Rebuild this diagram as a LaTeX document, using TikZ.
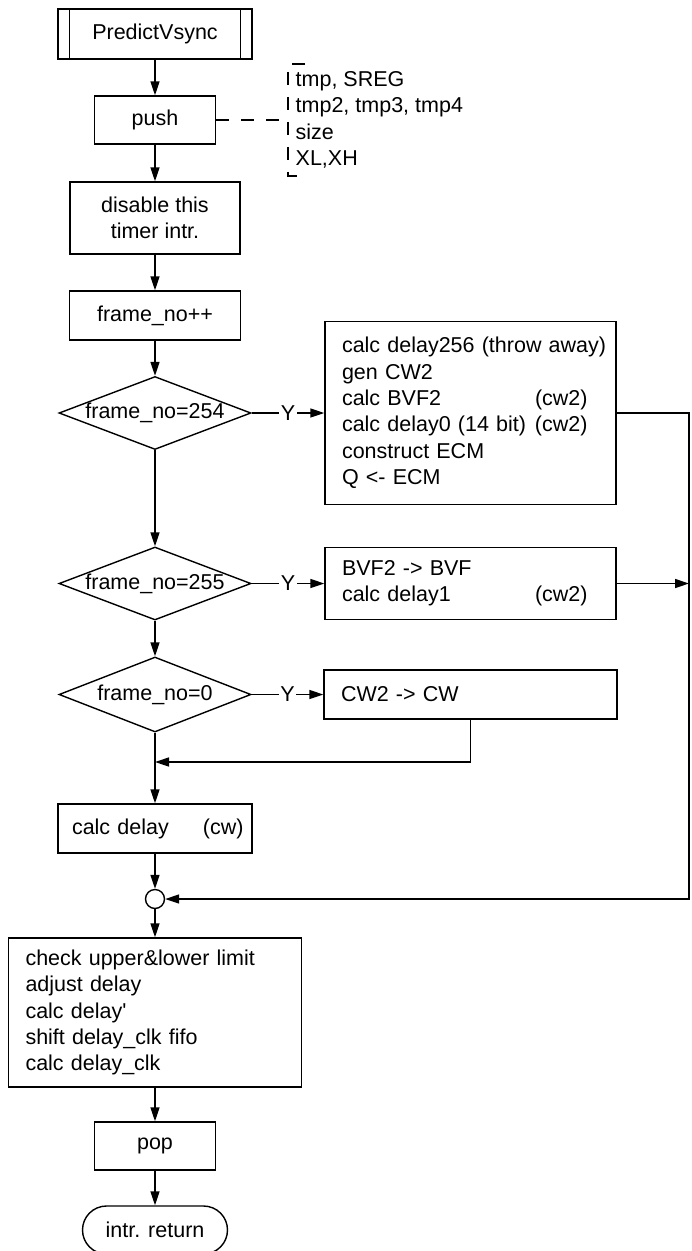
\documentclass[tikz,border=0pt]{standalone}
\usepackage{fontspec}
\setmainfont{Liberation Sans}
\usetikzlibrary{arrows.meta, shapes.geometric}

\begin{document}
\begin{tikzpicture}[
  x=1pt, y=-1pt,
  font=\fontsize{21.5}{26.4}\selectfont,
  line width=1.4pt,
  proc/.style={rectangle, draw, minimum height=49pt, inner sep=0pt},
  listbox/.style={rectangle, draw, inner xsep=17pt, inner ysep=0pt, align=left},
  decision/.style={diamond, draw, minimum width=192pt, minimum height=73pt, inner sep=0pt},
  terminal/.style={rectangle, draw, rounded corners=24pt, minimum width=145pt, minimum height=48pt},
  junction/.style={circle, draw, minimum size=19pt, inner sep=0pt},
  note/.style={inner xsep=7pt, inner ysep=7pt, align=left},
  arrow/.style={-{Triangle[length=14pt, width=9pt]}},
  yes/.style={midway, fill=white, inner sep=1.5pt},
  regline/.style={dash pattern=on 13pt off 12pt}
]
  \useasboundingbox (0,0) rectangle (692,1251);

  % Main column
  \node[proc, minimum width=194pt, minimum height=50pt] (start) at (155,34) {PredictVsync};
  \draw ([xshift=12pt]start.north west) -- ([xshift=12pt]start.south west)
        ([xshift=-12pt]start.north east) -- ([xshift=-12pt]start.south east);
  \node[proc, minimum width=121pt, minimum height=48pt] (push) at (155,120) {push};
  \node[note, anchor=west] (regs) at (288,120) {tmp, SREG\\tmp2, tmp3, tmp4\\size\\XL,XH};
  \node[proc, minimum width=170pt, minimum height=72pt, align=center] (disable) at (155,218) {disable this\\timer intr.};
  \node[proc, minimum width=171pt] (count) at (155,315.5) {frame\_no++};
  \node[decision] (is254) at (155,413) {\makebox[0pt]{frame\_no=254}};
  \node[decision] (is255) at (155,583.5) {\makebox[0pt]{frame\_no=255}};
  \node[decision, minimum height=75pt] (is0) at (155,694.5) {\makebox[0pt]{frame\_no=0}};
  \node[listbox, text width=166pt, inner xsep=14pt, minimum width=194pt, minimum height=49pt] (calc) at (155,828.5)
    {\makebox[131pt][l]{calc delay}(cw)};
  \node[junction] (join) at (155,899) {};
  \node[listbox, text width=259pt, minimum width=293pt, minimum height=149pt] (limit) at (155,1012.5)
    {check upper\&lower limit\\adjust delay\\calc delay\textquotesingle\\shift delay\_clk fifo\\calc delay\_clk};
  \node[proc, minimum width=121pt, minimum height=48pt] (pop) at (155,1146) {pop};
  \node[terminal] (ret) at (155,1230) {intr. return};

  % Branch boxes
  \node[listbox, text width=257pt, minimum width=291pt, minimum height=183pt] (gen) at (470.5,413)
    {\makebox[257pt][l]{calc delay256 (throw away)}\\gen CW2\\\makebox[193pt][l]{calc BVF2}(cw2)\\\makebox[193pt][l]{calc delay0 (14 bit)}(cw2)\\construct ECM\\Q <- ECM};
  \node[listbox, text width=257pt, minimum width=291pt, minimum height=72pt] (shift) at (470.5,583.5)
    {BVF2 -> BVF\\\makebox[193pt][l]{calc delay1}(cw2)};
  \node[listbox, text width=259pt, minimum width=293pt, minimum height=49pt] (swap) at (470.5,694.5) {CW2 -> CW};

  \coordinate (merge) at (155,762);
  \coordinate (rail) at (689,899);

  % Connectors
  \draw[arrow] (start) -- (push);
  \draw[arrow] (push) -- (disable);
  \draw[arrow] (disable) -- (count);
  \draw[arrow] (count) -- (is254);
  \draw[arrow] (is254) -- (is255);
  \draw[arrow] (is255) -- (is0);
  \draw[arrow] (is0) -- (calc);
  \draw[arrow] (calc) -- (join);
  \draw[arrow] (join) -- (limit);
  \draw[arrow] (limit) -- (pop);
  \draw[arrow] (pop) -- (ret);

  \draw[arrow] (is254.east) -- node[yes] {Y} (gen.west);
  \draw[arrow] (is255.east) -- node[yes] {Y} (shift.west);
  \draw[arrow] (is0.east) -- node[yes] {Y} (swap.west);

  \draw[arrow] (swap.south) |- (merge);
  \draw[arrow] (gen.east) -| (rail) -- (join.east);
  \draw[arrow] (shift.east) -- (shift.east -| rail);

  % Saved registers
  \draw[regline] (push.east) -- (regs.west);
  \draw[regline] ([xshift=17pt]regs.north west) -- (regs.north west) -- (regs.south west) -- ([xshift=13pt]regs.south west);

\end{tikzpicture}
\end{document}
